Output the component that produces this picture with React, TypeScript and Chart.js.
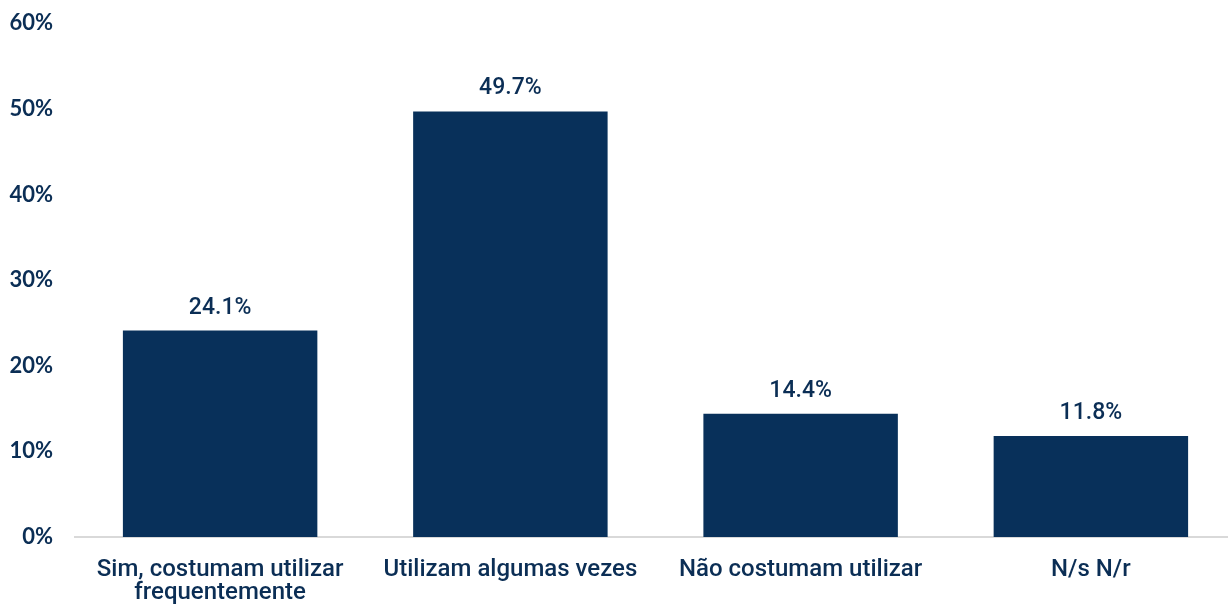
import React, { useEffect, useRef } from "react";
import { Chart, registerables } from "chart.js";

Chart.register(...registerables);

const categories: string[][] = [
  ["Sim, costumam utilizar", "frequentemente"],
  ["Utilizam algumas vezes"],
  ["Não costumam utilizar"],
  ["N/s N/r"],
];
const values: number[] = [24.1, 49.7, 14.4, 11.8];
const yTicks: number[] = [0, 10, 20, 30, 40, 50, 60];

const NAVY = "#08305a";
const TEXT = "#0b2e55";

const dataLabelPlugin = {
  id: "dataLabels",
  afterDatasetsDraw(chart: any) {
    const ctx = chart.ctx;
    const meta = chart.getDatasetMeta(0);
    ctx.save();
    ctx.font = "500 23px Roboto";
    ctx.fillStyle = TEXT;
    ctx.textAlign = "center";
    ctx.textBaseline = "alphabetic";
    meta.data.forEach((bar: any, i: number) => {
      ctx.fillText(values[i].toFixed(1) + "%", bar.x, bar.y - 17);
    });
    ctx.restore();
  },
};

export default function App() {
  const ref = useRef<HTMLCanvasElement>(null);
  useEffect(() => {
    document.body.style.margin = "0";
    const chart = new Chart(ref.current!, {
      type: "bar",
      data: {
        labels: categories,
        datasets: [
          {
            data: values,
            backgroundColor: NAVY,
            categoryPercentage: 1,
            barPercentage: 0.67,
          },
        ],
      },
      options: {
        responsive: false,
        animation: false,
        layout: { padding: { top: 0, right: 0, left: 0, bottom: 0 } },
        plugins: { legend: { display: false }, tooltip: { enabled: false } },
        scales: {
          x: {
            grid: { display: false, drawTicks: false },
            border: { display: true, color: "#d9d9d9", width: 2 },
            ticks: {
              color: TEXT,
              font: { family: "Roboto", size: 24, weight: "500", lineHeight: 0.96 },
              padding: 21,
              maxRotation: 0,
              autoSkip: false,
            },
            afterFit: (s: any) => {
              s.height = 70;
            },
          },
          y: {
            min: 0,
            max: 60,
            afterBuildTicks: (s: any) => {
              s.ticks = yTicks.map((v) => ({ value: v }));
            },
            grid: { display: false, drawTicks: false },
            border: { display: false },
            ticks: {
              color: TEXT,
              font: { family: "Lato", size: 22, weight: "bold" },
              padding: 22,
              callback: (v: any) => v + "%",
            },
            afterFit: (s: any) => {
              s.width = 75;
            },
          },
        },
      },
      plugins: [dataLabelPlugin],
    });
    return () => chart.destroy();
  }, []);
  return (
    <div style={{ width: 1228, height: 607, overflow: "hidden" }}>
      <canvas
        ref={ref}
        width={1236}
        height={619}
        style={{ display: "block", marginTop: -12 }}
      />
    </div>
  );
}
